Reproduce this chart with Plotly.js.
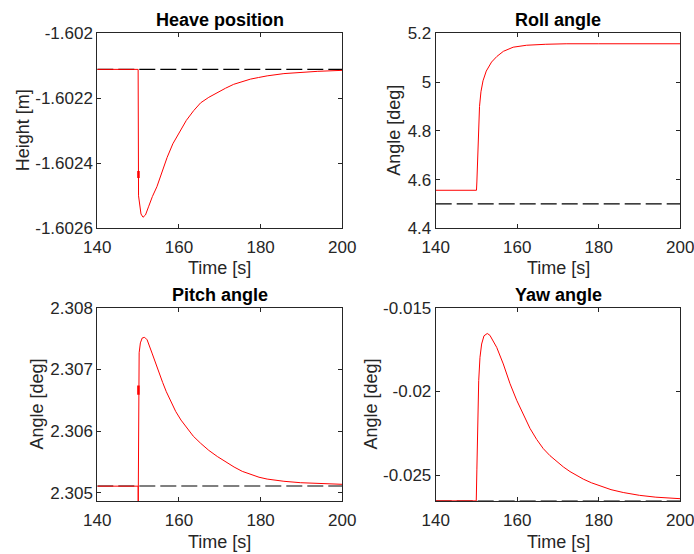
<!DOCTYPE html>
<html>
<head>
<meta charset="utf-8">
<script src="https://cdn.plot.ly/plotly-3.0.1.min.js"></script>
<style>html,body{margin:0;padding:0;background:#fff;}#chart{width:694px;height:554px;}</style>
</head>
<body>
<div id="chart"></div>
<script>
// ---- data ----
const timeTicks = [140, 160, 180, 200];
const timeTickText = ['140', '160', '180', '200'];
const refT = [140, 200];

const heaveT = [140, 150, 150.1, 150.25, 150.4, 150.7, 151.2, 151.8, 152.6, 153.5, 154.6, 155.8, 157.1, 158.5, 160, 161.8, 163.6, 165.3, 167.3, 169.4, 171.4, 173.4, 175.5, 177.5, 179.5, 181.6, 185.7, 189.8, 194, 200];
const heaveV = [-1.602111, -1.602111, -1.6025, -1.60252, -1.602535, -1.602556, -1.602566, -1.602559, -1.602532, -1.602502, -1.602472, -1.602428, -1.602382, -1.60234, -1.602307, -1.602268, -1.602238, -1.602214, -1.602197, -1.602182, -1.602169, -1.602157, -1.602148, -1.602141, -1.602136, -1.602131, -1.602124, -1.60212, -1.602117, -1.602114];
const heaveRef = -1.602111;
const heaveGlitchT = [150.08, 150.08];
const heaveGlitchV = [-1.602424, -1.602445];
const heaveTicks = [-1.6026, -1.6024, -1.6022, -1.602];
const heaveTickText = ['-1.6026', '-1.6024', '-1.6022', '-1.602'];

const rollT = [140, 150, 150.1, 150.2, 150.45, 150.75, 151.1, 151.6, 152.4, 153.7, 155, 156.6, 159, 162.3, 167, 172, 180, 190, 200];
const rollV = [4.556, 4.556, 4.59, 4.64, 4.80, 4.90, 4.96, 5.005, 5.045, 5.082, 5.105, 5.126, 5.143, 5.151, 5.155, 5.157, 5.157, 5.157, 5.157];
const rollRef = 4.5;
const rollTicks = [4.4, 4.6, 4.8, 5, 5.2];
const rollTickText = ['4.4', '4.6', '4.8', '5', '5.2'];

const pitchT = [140, 150, 150.02, 150.08, 150.25, 150.55, 151.0, 151.6, 152.2, 153.4, 154.2, 155.1, 156, 156.9, 158, 159.2, 160.5, 162, 163.5, 165.3, 167.3, 169.4, 171.4, 173.5, 175.5, 177.6, 179.6, 181.6, 183.6, 185.7, 189.8, 193.9, 200];
const pitchV = [2.30511, 2.30511, 2.30486, 2.30710, 2.30727, 2.30743, 2.30751, 2.30752, 2.30748, 2.307265, 2.30711, 2.30695, 2.30679, 2.30664, 2.30648, 2.30632, 2.30618, 2.30604, 2.30592, 2.305805, 2.30569, 2.30559, 2.3055, 2.30542, 2.30535, 2.305295, 2.305255, 2.305225, 2.305205, 2.305189, 2.305166, 2.305152, 2.30514];
const pitchRef = 2.305113;
const pitchGlitchT = [150.07, 150.07];
const pitchGlitchV = [2.30659, 2.30674];
const pitchTicks = [2.305, 2.306, 2.307, 2.308];
const pitchTickText = ['2.305', '2.306', '2.307', '2.308'];

const yawT = [140, 149.95, 150.1, 150.3, 150.55, 150.86, 151.27, 151.84, 152.65, 153.3, 154.96, 156.58, 158.23, 159.87, 161.49, 163.13, 164.77, 166.39, 168.03, 169.68, 171.3, 172.94, 174.6, 176.2, 178.2, 180.3, 183, 186, 190, 194, 200];
const yawV = [-0.02654, -0.02654, -0.02469, -0.02172, -0.01935, -0.01797, -0.01717, -0.01668, -0.01654, -0.01665, -0.01737, -0.01836, -0.01954, -0.02053, -0.02142, -0.02221, -0.02287, -0.02342, -0.02384, -0.02419, -0.02451, -0.02479, -0.02503, -0.02524, -0.02546, -0.02566, -0.02587, -0.02604, -0.02621, -0.02632, -0.02641];
const yawRef = -0.02655;
const yawTicks = [-0.025, -0.02, -0.015];
const yawTickText = ['-0.025', '-0.02', '-0.015'];

const titles = ['Heave position', 'Roll angle', 'Pitch angle', 'Yaw angle'];
const yLabels = ['Height [m]', 'Angle [deg]', 'Angle [deg]', 'Angle [deg]'];
const xLabel = 'Time [s]';

// ---- styling ----
const FONT = 'Liberation Sans, Arial, Helvetica, sans-serif';
const AX = '#262626';
const W = 694, H = 554;
const px = v => v / W;
const py = v => 1 - v / H;

function refTrace(ref, xa, ya) {
  return {x: refT, y: [ref, ref], xaxis: xa, yaxis: ya, mode: 'lines',
    line: {color: '#000', width: 1.2, dash: '16px,5px'}, hoverinfo: 'skip'};
}
function redTrace(t, v, xa, ya, w) {
  return {x: t, y: v, xaxis: xa, yaxis: ya, mode: 'lines',
    line: {color: '#ff0000', width: w || 1}, hoverinfo: 'skip'};
}

const data = [
  refTrace(heaveRef, 'x', 'y'), redTrace(heaveT, heaveV, 'x', 'y'), redTrace(heaveGlitchT, heaveGlitchV, 'x', 'y', 2.5),
  refTrace(rollRef, 'x2', 'y2'), redTrace(rollT, rollV, 'x2', 'y2'),
  refTrace(pitchRef, 'x3', 'y3'), redTrace(pitchT, pitchV, 'x3', 'y3'), redTrace(pitchGlitchT, pitchGlitchV, 'x3', 'y3', 2.5),
  refTrace(yawRef, 'x4', 'y4'), redTrace(yawT, yawV, 'x4', 'y4')
];

function axis(domain, range, tv, tt, anchor, isX) {
  const a = {domain: domain, range: range, anchor: anchor, tickmode: 'array', tickvals: tv, ticktext: tt,
    showgrid: false, zeroline: false, showline: true, mirror: 'ticks', linecolor: AX, linewidth: 1,
    ticks: 'inside', ticklen: 4, tickcolor: AX, tickwidth: 1, ticklabeloverflow: 'allow',
    tickfont: {family: FONT, size: 17, color: AX}, fixedrange: true};
  if (isX) a.ticklabelstandoff = 3;
  return a;
}

const colL = [px(97.3), px(342.3)];
const colR = [px(435.7), px(680.3)];
const rowT = [py(228.3), py(33.3)];
const rowB = [py(501.3), py(307.7)];

const layout = {
  width: W, height: H, margin: {l: 0, r: 0, t: 0, b: 0},
  paper_bgcolor: '#fff', plot_bgcolor: '#fff', showlegend: false,
  xaxis: axis(colL, [140, 200], timeTicks, timeTickText, 'y', true),
  yaxis: axis(rowT, [-1.6026, -1.602], heaveTicks, heaveTickText, 'x'),
  xaxis2: axis(colR, [140, 200], timeTicks, timeTickText, 'y2', true),
  yaxis2: axis(rowT, [4.4, 5.2], rollTicks, rollTickText, 'x2'),
  xaxis3: axis(colL, [140, 200], timeTicks, timeTickText, 'y3', true),
  yaxis3: axis(rowB, [2.304865, 2.308], pitchTicks, pitchTickText, 'x3'),
  xaxis4: axis(colR, [140, 200], timeTicks, timeTickText, 'y4', true),
  yaxis4: axis(rowB, [-0.026566, -0.015], yawTicks, yawTickText, 'x4'),
  annotations: []
};

const centersX = [(97.3 + 342.3) / 2, (435.7 + 680.3) / 2, (97.3 + 342.3) / 2, (435.7 + 680.3) / 2];
const titleY = [20, 20, 295, 295];
const xLabY = [268, 268, 542, 542];
const yLabX = [22.5, 394, 36, 370];
const yLabY = [130.8, 130.8, 404.5, 404.5];

for (let i = 0; i < 4; i++) {
  layout.annotations.push({text: '<b>' + titles[i] + '</b>', xref: 'paper', yref: 'paper',
    x: px(centersX[i]), y: py(titleY[i]), xanchor: 'center', yanchor: 'middle', showarrow: false,
    font: {family: FONT, size: 18, color: '#000'}});
  layout.annotations.push({text: xLabel, xref: 'paper', yref: 'paper',
    x: px(centersX[i]), y: py(xLabY[i]), xanchor: 'center', yanchor: 'middle', showarrow: false,
    font: {family: FONT, size: 18, color: AX}});
  layout.annotations.push({text: yLabels[i], xref: 'paper', yref: 'paper', textangle: -90,
    x: px(yLabX[i]), y: py(yLabY[i]), xanchor: 'center', yanchor: 'middle', showarrow: false,
    font: {family: FONT, size: 18, color: AX}});
}

Plotly.newPlot('chart', data, layout, {displayModeBar: false, staticPlot: true});
</script>
</body>
</html>
